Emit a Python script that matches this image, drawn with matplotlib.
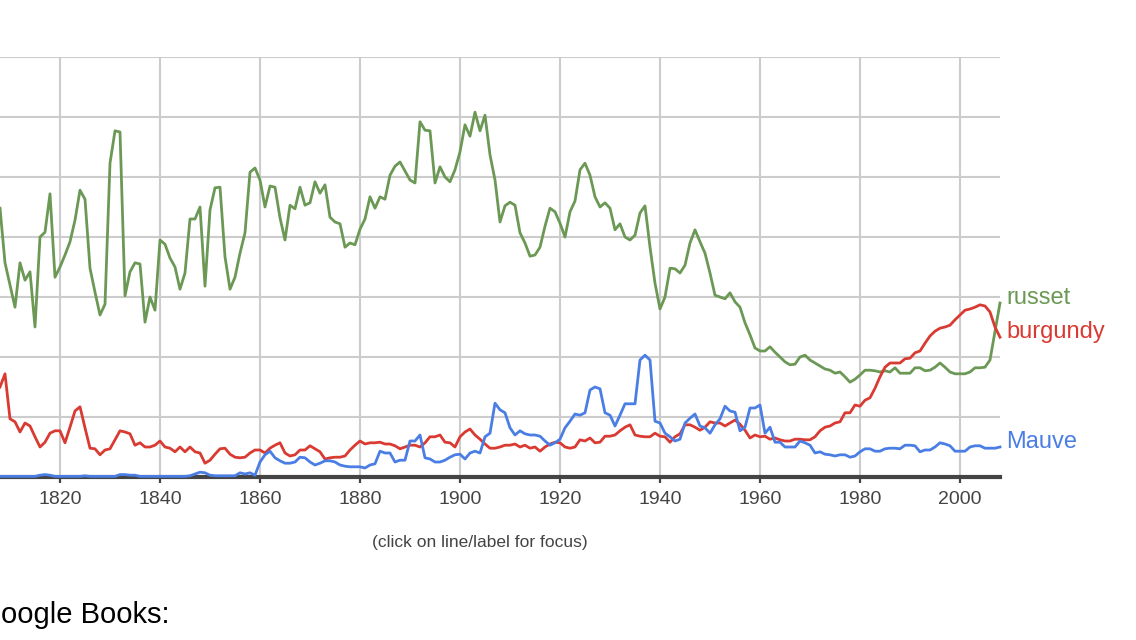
import matplotlib
matplotlib.use('Agg')
import matplotlib.pyplot as plt
import numpy as np

###########################################
## DATA (ngram frequency, one gridline = 1 unit)
###########################################

years = list(range(1808, 2009))

russet = [
    4.48, 3.57, 3.20, 2.83, 3.57, 3.28, 3.42, 2.50, 4.00, 4.08,   # 1808-1817
    4.72, 3.33, 3.50, 3.70, 3.92, 4.28, 4.78, 4.63, 3.48, 3.08,   # 1818-1827
    2.70, 2.88, 5.23, 5.77, 5.75, 3.02, 3.42, 3.57, 3.55, 2.58,   # 1828-1837
    3.00, 2.78, 3.95, 3.88, 3.65, 3.50, 3.13, 3.40, 4.30, 4.30,   # 1838-1847
    4.50, 3.18, 4.45, 4.82, 4.83, 3.67, 3.13, 3.33, 3.73, 4.07,   # 1848-1857
    5.08, 5.15, 4.95, 4.50, 4.85, 4.83, 4.32, 3.95, 4.53, 4.47,   # 1858-1867
    4.83, 4.53, 4.57, 4.92, 4.73, 4.87, 4.33, 4.25, 4.22, 3.83,   # 1868-1877
    3.90, 3.87, 4.13, 4.30, 4.67, 4.48, 4.67, 4.63, 5.03, 5.18,   # 1878-1887
    5.25, 5.10, 4.95, 4.90, 5.92, 5.78, 5.77, 4.90, 5.17, 5.00,   # 1888-1897
    4.92, 5.12, 5.42, 5.87, 5.68, 6.08, 5.77, 6.03, 5.37, 4.95,   # 1898-1907
    4.25, 4.52, 4.58, 4.53, 4.07, 3.90, 3.68, 3.70, 3.83, 4.18,   # 1908-1917
    4.48, 4.42, 4.23, 4.00, 4.42, 4.60, 5.12, 5.23, 5.03, 4.67,   # 1918-1927
    4.50, 4.57, 4.48, 4.12, 4.22, 4.00, 3.95, 4.03, 4.40, 4.52,   # 1928-1937
    3.83, 3.23, 2.80, 3.00, 3.48, 3.47, 3.40, 3.53, 3.90, 4.12,   # 1938-1947
    3.92, 3.73, 3.40, 3.03, 3.00, 2.97, 3.07, 2.92, 2.83, 2.57,   # 1948-1957
    2.37, 2.15, 2.10, 2.10, 2.17, 2.08, 2.00, 1.92, 1.87, 1.88,   # 1958-1967
    2.00, 2.03, 1.95, 1.90, 1.85, 1.80, 1.78, 1.73, 1.75, 1.67,   # 1968-1977
    1.58, 1.63, 1.70, 1.78, 1.78, 1.77, 1.75, 1.77, 1.75, 1.82,   # 1978-1987
    1.73, 1.73, 1.73, 1.82, 1.82, 1.77, 1.78, 1.83, 1.90, 1.83,   # 1988-1997
    1.75, 1.72, 1.72, 1.72, 1.75, 1.82, 1.82, 1.83, 1.95, 2.42,   # 1998-2007
    2.90,                                                         # 2008
]

burgundy = [
    1.50, 1.72, 0.97, 0.92, 0.75, 0.90, 0.85, 0.67, 0.50, 0.58,   # 1808-1817
    0.73, 0.77, 0.77, 0.57, 0.83, 1.10, 1.17, 0.82, 0.48, 0.47,   # 1818-1827
    0.37, 0.45, 0.47, 0.62, 0.77, 0.75, 0.72, 0.53, 0.57, 0.50,   # 1828-1837
    0.50, 0.53, 0.60, 0.50, 0.48, 0.42, 0.50, 0.42, 0.50, 0.42,   # 1838-1847
    0.40, 0.23, 0.28, 0.38, 0.47, 0.48, 0.38, 0.33, 0.32, 0.33,   # 1848-1857
    0.40, 0.45, 0.45, 0.40, 0.48, 0.53, 0.57, 0.40, 0.35, 0.37,   # 1858-1867
    0.45, 0.45, 0.52, 0.47, 0.42, 0.30, 0.32, 0.33, 0.33, 0.35,   # 1868-1877
    0.45, 0.53, 0.60, 0.55, 0.57, 0.57, 0.58, 0.55, 0.55, 0.52,   # 1878-1887
    0.47, 0.50, 0.53, 0.53, 0.50, 0.57, 0.67, 0.67, 0.70, 0.58,   # 1888-1897
    0.57, 0.50, 0.67, 0.75, 0.80, 0.70, 0.63, 0.55, 0.48, 0.48,   # 1898-1907
    0.50, 0.53, 0.53, 0.55, 0.50, 0.53, 0.48, 0.50, 0.43, 0.50,   # 1908-1917
    0.55, 0.58, 0.57, 0.50, 0.48, 0.50, 0.62, 0.60, 0.65, 0.57,   # 1918-1927
    0.58, 0.68, 0.68, 0.70, 0.77, 0.83, 0.87, 0.70, 0.68, 0.67,   # 1928-1937
    0.67, 0.73, 0.68, 0.67, 0.58, 0.67, 0.72, 0.87, 0.87, 0.83,   # 1938-1947
    0.78, 0.83, 0.92, 0.90, 0.90, 0.85, 0.90, 0.95, 0.88, 0.78,   # 1948-1957
    0.65, 0.70, 0.67, 0.68, 0.63, 0.65, 0.62, 0.60, 0.60, 0.63,   # 1958-1967
    0.63, 0.62, 0.62, 0.67, 0.77, 0.83, 0.85, 0.90, 0.92, 1.07,   # 1968-1977
    1.07, 1.20, 1.18, 1.28, 1.32, 1.48, 1.67, 1.83, 1.90, 1.90,   # 1978-1987
    1.90, 1.97, 1.98, 2.07, 2.10, 2.23, 2.35, 2.43, 2.48, 2.50,   # 1988-1997
    2.53, 2.62, 2.70, 2.78, 2.80, 2.83, 2.87, 2.85, 2.75, 2.50,   # 1998-2007
    2.33,                                                         # 2008
]

mauve = [
    0.01, 0.01, 0.01, 0.01, 0.01, 0.01, 0.01, 0.01, 0.03, 0.04,   # 1808-1817
    0.03, 0.01, 0.01, 0.01, 0.01, 0.01, 0.01, 0.02, 0.01, 0.01,   # 1818-1827
    0.01, 0.01, 0.01, 0.01, 0.04, 0.04, 0.03, 0.03, 0.01, 0.01,   # 1828-1837
    0.01, 0.01, 0.01, 0.01, 0.01, 0.01, 0.01, 0.01, 0.02, 0.05,   # 1838-1847
    0.08, 0.07, 0.03, 0.02, 0.02, 0.02, 0.02, 0.02, 0.07, 0.05,   # 1848-1857
    0.07, 0.03, 0.25, 0.37, 0.43, 0.32, 0.27, 0.23, 0.23, 0.25,   # 1858-1867
    0.33, 0.32, 0.25, 0.20, 0.23, 0.27, 0.27, 0.25, 0.20, 0.18,   # 1868-1877
    0.17, 0.17, 0.17, 0.15, 0.20, 0.22, 0.43, 0.40, 0.40, 0.25,   # 1878-1887
    0.28, 0.28, 0.60, 0.60, 0.70, 0.32, 0.30, 0.25, 0.25, 0.28,   # 1888-1897
    0.33, 0.37, 0.38, 0.30, 0.40, 0.43, 0.40, 0.67, 0.73, 1.23,   # 1898-1907
    1.12, 1.07, 0.82, 0.70, 0.77, 0.72, 0.70, 0.70, 0.68, 0.60,   # 1908-1917
    0.53, 0.57, 0.63, 0.82, 0.93, 1.05, 1.03, 1.07, 1.45, 1.50,   # 1918-1927
    1.47, 1.07, 1.03, 0.85, 1.03, 1.22, 1.22, 1.22, 1.95, 2.03,   # 1928-1937
    1.95, 0.93, 0.90, 0.73, 0.67, 0.60, 0.63, 0.90, 0.98, 1.05,   # 1938-1947
    0.85, 0.82, 0.73, 0.87, 0.97, 1.18, 1.10, 1.08, 0.77, 0.83,   # 1948-1957
    1.15, 1.15, 1.20, 0.73, 0.83, 0.58, 0.58, 0.50, 0.50, 0.50,   # 1958-1967
    0.60, 0.57, 0.53, 0.40, 0.42, 0.38, 0.37, 0.35, 0.37, 0.37,   # 1968-1977
    0.33, 0.35, 0.42, 0.47, 0.47, 0.43, 0.43, 0.47, 0.48, 0.48,   # 1978-1987
    0.47, 0.53, 0.53, 0.52, 0.42, 0.45, 0.45, 0.50, 0.57, 0.55,   # 1988-1997
    0.52, 0.43, 0.43, 0.43, 0.50, 0.52, 0.52, 0.48, 0.48, 0.48,   # 1998-2007
    0.50,                                                         # 2008
]

series_names = ['russet', 'burgundy', 'Mauve']
series_colors = ['#6b9955', '#d93a31', '#4a7ee4']
tick_years = list(range(1820, 2001, 20))

###########################################
## PLOT
###########################################

plt.rcParams['font.family'] = ['Liberation Sans', 'DejaVu Sans']

fig = plt.figure(figsize=(11.36, 6.4), dpi=100)
ax = fig.add_axes([0, 163 / 640, 1000 / 1136, 420 / 640])

ax.set_xlim(years[0], years[-1])
ax.set_ylim(0, 7)

# light grid
for gy in range(1, 8):
    ax.axhline(gy, color='#cccccc', lw=1.5, zorder=1)
for gx in tick_years:
    ax.axvline(gx, color='#cccccc', lw=1.5, zorder=1)

# dark baseline
ax.axhline(0, color='#444444', lw=3, zorder=2, clip_on=False)

for name, vals, col in zip(series_names, [russet, burgundy, mauve], series_colors):
    ax.plot(years, vals, color=col, lw=2.0, zorder=3, clip_on=False,
            solid_joinstyle='round')
    ax.annotate(name, xy=(years[-1], vals[-1]), xytext=(6, 5),
                textcoords='offset pixels', color=col, fontsize=17,
                va='center', ha='left', annotation_clip=False)

for s in ax.spines.values():
    s.set_visible(False)
ax.set_yticks([])
ax.set_xticks(tick_years)
ax.set_xticklabels([str(y) for y in tick_years])
ax.tick_params(axis='x', direction='out', length=4, width=1.6,
               color='#444444', labelcolor='#444444', labelsize=14, pad=6)

fig.text(480 / 1136, 1 - 543 / 640, '(click on line/label for focus)',
         ha='center', va='center', fontsize=12.5, color='#444444')
# the screenshot cuts off the leading "G" of "Google Books:"
fig.text(1 / 1136, 1 - 615 / 640, 'oogle Books:',
         ha='left', va='center', fontsize=21, color='#000000')

fig.savefig('out.png', dpi=100)
